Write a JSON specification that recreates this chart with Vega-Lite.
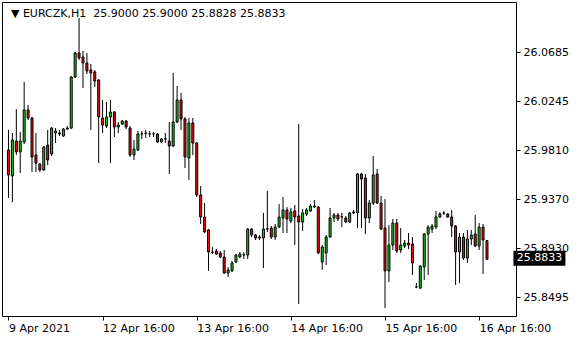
{
  "$schema": "https://vega.github.io/schema/vega-lite/v6.json",
  "width": 514,
  "height": 314,
  "autosize": {"type": "none"},
  "padding": {"left": 2, "top": 2, "right": 64, "bottom": 24},
  "background": "white",
  "config": {
    "view": {"stroke": "black", "strokeWidth": 1},
    "axis": {"labelFont": "DejaVu Sans", "labelFontSize": 11, "labelColor": "black", "tickColor": "black", "domain": false, "grid": false, "tickSize": 4}
  },
  "data": {"values": [
    {"i":0,"o":25.9811,"h":25.9990,"l":25.9381,"c":25.9587},
    {"i":1,"o":25.9578,"h":25.9963,"l":25.9345,"c":25.9900},
    {"i":2,"o":25.9891,"h":26.0177,"l":25.9766,"c":25.9793},
    {"i":3,"o":25.9793,"h":25.9972,"l":25.9605,"c":25.9891},
    {"i":4,"o":25.9882,"h":26.0419,"l":25.9864,"c":26.0169},
    {"i":5,"o":26.0169,"h":26.0213,"l":26.0079,"c":26.0097},
    {"i":6,"o":26.0097,"h":26.0106,"l":25.9614,"c":25.9748},
    {"i":7,"o":25.9766,"h":25.9963,"l":25.9614,"c":25.9694},
    {"i":8,"o":25.9685,"h":25.9694,"l":25.9614,"c":25.9632},
    {"i":9,"o":25.9632,"h":25.9846,"l":25.9623,"c":25.9837},
    {"i":10,"o":25.9855,"h":25.9990,"l":25.9676,"c":25.9721},
    {"i":11,"o":25.9775,"h":26.0016,"l":25.9757,"c":26.0007},
    {"i":12,"o":25.9963,"h":26.0007,"l":25.9873,"c":25.9981},
    {"i":13,"o":25.9954,"h":25.9990,"l":25.9936,"c":25.9963},
    {"i":14,"o":25.9936,"h":26.0007,"l":25.9927,"c":25.9998},
    {"i":15,"o":25.9998,"h":26.0025,"l":25.9990,"c":26.0007},
    {"i":16,"o":26.0007,"h":26.0473,"l":25.9998,"c":26.0464},
    {"i":17,"o":26.0464,"h":26.0688,"l":26.0455,"c":26.0679},
    {"i":18,"o":26.0679,"h":26.0992,"l":26.0616,"c":26.0634},
    {"i":19,"o":26.0643,"h":26.0697,"l":26.0365,"c":26.0589},
    {"i":20,"o":26.0589,"h":26.0679,"l":26.0491,"c":26.0518},
    {"i":21,"o":26.0527,"h":26.0580,"l":25.9990,"c":26.0500},
    {"i":22,"o":26.0509,"h":26.0527,"l":26.0374,"c":26.0428},
    {"i":23,"o":26.0437,"h":26.0446,"l":25.9694,"c":26.0106},
    {"i":24,"o":26.0097,"h":26.0258,"l":25.9963,"c":26.0034},
    {"i":25,"o":26.0025,"h":26.0240,"l":26.0007,"c":26.0106},
    {"i":26,"o":26.0106,"h":26.0258,"l":25.9694,"c":26.0151},
    {"i":27,"o":26.0151,"h":26.0160,"l":25.9927,"c":26.0016},
    {"i":28,"o":26.0016,"h":26.0061,"l":25.9963,"c":26.0034},
    {"i":29,"o":26.0043,"h":26.0079,"l":26.0034,"c":26.0070},
    {"i":30,"o":26.0070,"h":26.0079,"l":25.9998,"c":26.0016},
    {"i":31,"o":26.0007,"h":26.0025,"l":25.9748,"c":25.9766},
    {"i":32,"o":25.9766,"h":25.9900,"l":25.9721,"c":25.9819},
    {"i":33,"o":25.9811,"h":25.9981,"l":25.9802,"c":25.9954},
    {"i":34,"o":25.9954,"h":25.9981,"l":25.9909,"c":25.9956},
    {"i":35,"o":25.9959,"h":25.9990,"l":25.9918,"c":25.9963},
    {"i":36,"o":25.9954,"h":25.9981,"l":25.9927,"c":25.9955},
    {"i":37,"o":25.9955,"h":25.9972,"l":25.9927,"c":25.9954},
    {"i":38,"o":25.9954,"h":25.9963,"l":25.9873,"c":25.9882},
    {"i":39,"o":25.9882,"h":25.9918,"l":25.9873,"c":25.9909},
    {"i":40,"o":25.9909,"h":25.9963,"l":25.9873,"c":25.9910},
    {"i":41,"o":25.9891,"h":26.0061,"l":25.9596,"c":25.9846},
    {"i":42,"o":25.9846,"h":26.0500,"l":25.9837,"c":26.0061},
    {"i":43,"o":26.0061,"h":26.0383,"l":26.0052,"c":26.0258},
    {"i":44,"o":26.0258,"h":26.0321,"l":25.9990,"c":26.0088},
    {"i":45,"o":26.0088,"h":26.0106,"l":25.9649,"c":25.9748},
    {"i":46,"o":25.9739,"h":26.0097,"l":25.9542,"c":26.0052},
    {"i":47,"o":26.0052,"h":26.0097,"l":25.9766,"c":25.9873},
    {"i":48,"o":25.9873,"h":25.9882,"l":25.9390,"c":25.9408},
    {"i":49,"o":25.9408,"h":25.9488,"l":25.9148,"c":25.9211},
    {"i":50,"o":25.9211,"h":25.9336,"l":25.9068,"c":25.9077},
    {"i":51,"o":25.9095,"h":25.9103,"l":25.8728,"c":25.8898},
    {"i":52,"o":25.8896,"h":25.8942,"l":25.8880,"c":25.8894},
    {"i":53,"o":25.8907,"h":25.8924,"l":25.8871,"c":25.8880},
    {"i":54,"o":25.8889,"h":25.8907,"l":25.8844,"c":25.8853},
    {"i":55,"o":25.8853,"h":25.8916,"l":25.8701,"c":25.8710},
    {"i":56,"o":25.8710,"h":25.8763,"l":25.8674,"c":25.8737},
    {"i":57,"o":25.8728,"h":25.8817,"l":25.8719,"c":25.8799},
    {"i":58,"o":25.8808,"h":25.8880,"l":25.8799,"c":25.8871},
    {"i":59,"o":25.8853,"h":25.8898,"l":25.8844,"c":25.8880},
    {"i":60,"o":25.8871,"h":25.8898,"l":25.8835,"c":25.8873},
    {"i":61,"o":25.8871,"h":25.9112,"l":25.8835,"c":25.9103},
    {"i":62,"o":25.9103,"h":25.9112,"l":25.9032,"c":25.9050},
    {"i":63,"o":25.9050,"h":25.9059,"l":25.9005,"c":25.9023},
    {"i":64,"o":25.9023,"h":25.9050,"l":25.9005,"c":25.9032},
    {"i":65,"o":25.9023,"h":25.9247,"l":25.8754,"c":25.9103},
    {"i":66,"o":25.9103,"h":25.9444,"l":25.9077,"c":25.9105},
    {"i":67,"o":25.9112,"h":25.9130,"l":25.9014,"c":25.9032},
    {"i":68,"o":25.9032,"h":25.9148,"l":25.9005,"c":25.9121},
    {"i":69,"o":25.9121,"h":25.9327,"l":25.9112,"c":25.9211},
    {"i":70,"o":25.9202,"h":25.9390,"l":25.9068,"c":25.9274},
    {"i":71,"o":25.9274,"h":25.9300,"l":25.9068,"c":25.9193},
    {"i":72,"o":25.9175,"h":25.9291,"l":25.9157,"c":25.9256},
    {"i":73,"o":25.9265,"h":25.9318,"l":25.8960,"c":25.9211},
    {"i":74,"o":25.9220,"h":26.0043,"l":25.8432,"c":25.9166},
    {"i":75,"o":25.9166,"h":25.9282,"l":25.9086,"c":25.9247},
    {"i":76,"o":25.9238,"h":25.9291,"l":25.9220,"c":25.9274},
    {"i":77,"o":25.9265,"h":25.9327,"l":25.9256,"c":25.9309},
    {"i":78,"o":25.9300,"h":25.9363,"l":25.9291,"c":25.9309},
    {"i":79,"o":25.9300,"h":25.9309,"l":25.8880,"c":25.8889},
    {"i":80,"o":25.8808,"h":25.8960,"l":25.8737,"c":25.8942},
    {"i":81,"o":25.8889,"h":25.9050,"l":25.8781,"c":25.9032},
    {"i":82,"o":25.9032,"h":25.9291,"l":25.9023,"c":25.9202},
    {"i":83,"o":25.9202,"h":25.9247,"l":25.9166,"c":25.9229},
    {"i":84,"o":25.9229,"h":25.9247,"l":25.9175,"c":25.9193},
    {"i":85,"o":25.9211,"h":25.9247,"l":25.9121,"c":25.9213},
    {"i":86,"o":25.9202,"h":25.9220,"l":25.9157,"c":25.9166},
    {"i":87,"o":25.9166,"h":25.9256,"l":25.9157,"c":25.9247},
    {"i":88,"o":25.9247,"h":25.9274,"l":25.9238,"c":25.9256},
    {"i":89,"o":25.9247,"h":25.9605,"l":25.9112,"c":25.9596},
    {"i":90,"o":25.9596,"h":25.9605,"l":25.9112,"c":25.9551},
    {"i":91,"o":25.9560,"h":25.9596,"l":25.9059,"c":25.9202},
    {"i":92,"o":25.9202,"h":25.9363,"l":25.9157,"c":25.9336},
    {"i":93,"o":25.9336,"h":25.9757,"l":25.9318,"c":25.9587},
    {"i":94,"o":25.9596,"h":25.9640,"l":25.9327,"c":25.9336},
    {"i":95,"o":25.9336,"h":25.9399,"l":25.9095,"c":25.9103},
    {"i":96,"o":25.9112,"h":25.9372,"l":25.8396,"c":25.8728},
    {"i":97,"o":25.8728,"h":25.9139,"l":25.8629,"c":25.8960},
    {"i":98,"o":25.8960,"h":25.9193,"l":25.8916,"c":25.9157},
    {"i":99,"o":25.9157,"h":25.9193,"l":25.8889,"c":25.8907},
    {"i":100,"o":25.8916,"h":25.9112,"l":25.8889,"c":25.8960},
    {"i":101,"o":25.8951,"h":25.9005,"l":25.8933,"c":25.8978},
    {"i":102,"o":25.8978,"h":25.9068,"l":25.8924,"c":25.8960},
    {"i":103,"o":25.8969,"h":25.9032,"l":25.8692,"c":25.8799},
    {"i":104,"o":25.8584,"h":25.8620,"l":25.8575,"c":25.8586},
    {"i":105,"o":25.8575,"h":25.8781,"l":25.8566,"c":25.8772},
    {"i":106,"o":25.8763,"h":25.9068,"l":25.8647,"c":25.9059},
    {"i":107,"o":25.9059,"h":25.9139,"l":25.8692,"c":25.9121},
    {"i":108,"o":25.9103,"h":25.9148,"l":25.9068,"c":25.9130},
    {"i":109,"o":25.9121,"h":25.9265,"l":25.9103,"c":25.9211},
    {"i":110,"o":25.9211,"h":25.9256,"l":25.9202,"c":25.9238},
    {"i":111,"o":25.9245,"h":25.9265,"l":25.9229,"c":25.9247},
    {"i":112,"o":25.9238,"h":25.9247,"l":25.9202,"c":25.9211},
    {"i":113,"o":25.9211,"h":25.9274,"l":25.9032,"c":25.9130},
    {"i":114,"o":25.9130,"h":25.9139,"l":25.8602,"c":25.8898},
    {"i":115,"o":25.8898,"h":25.9068,"l":25.8620,"c":25.9032},
    {"i":116,"o":25.9032,"h":25.9068,"l":25.8826,"c":25.8844},
    {"i":117,"o":25.8844,"h":25.9095,"l":25.8799,"c":25.9014},
    {"i":118,"o":25.9014,"h":25.9095,"l":25.8960,"c":25.9050},
    {"i":119,"o":25.9059,"h":25.9229,"l":25.8942,"c":25.8951},
    {"i":120,"o":25.8951,"h":25.9157,"l":25.8916,"c":25.9121},
    {"i":121,"o":25.9121,"h":25.9148,"l":25.8701,"c":25.9005},
    {"i":122,"o":25.9000,"h":25.9000,"l":25.8828,"c":25.8833}
  ]},
  "layer": [
    {
      "mark": {"type": "rule", "color": "black", "strokeWidth": 1},
      "encoding": {
        "x": {"field": "i", "type": "quantitative", "scale": {"domain": [-0.375, 128.125], "nice": false, "zero": false},
          "axis": {"title": null, "orient": "bottom", "values": [0, 24, 48, 72, 96, 120], "labelAlign": "left", "labelBaseline": "top", "labelPadding": 2, "labelFlush": false, "labelOverlap": false,
            "labelExpr": "datum.value == 0 ? '9 Apr 2021' : datum.value == 24 ? '12 Apr 16:00' : datum.value == 48 ? '13 Apr 16:00' : datum.value == 72 ? '14 Apr 16:00' : datum.value == 96 ? '15 Apr 16:00' : '16 Apr 16:00'"}},
        "y": {"field": "l", "type": "quantitative", "scale": {"domain": [25.8325, 26.1135], "nice": false, "zero": false},
          "axis": {"title": null, "orient": "right", "values": [26.0685, 26.0245, 25.981, 25.937, 25.893, 25.8495], "format": ".4f", "labelPadding": 3, "labelBaseline": "middle", "labelFlush": false, "labelOverlap": false}},
        "y2": {"field": "h"}
      }
    },
    {
      "mark": {"type": "bar", "orient": "vertical", "width": 2, "stroke": "black", "strokeWidth": 1},
      "encoding": {
        "x": {"field": "i", "type": "quantitative"},
        "y": {"field": "o", "type": "quantitative"},
        "y2": {"field": "c"},
        "fill": {"condition": {"test": "datum.c >= datum.o", "value": "#1fcc1f"}, "value": "#f01010"}
      }
    },
    {
      "transform": [{"filter": "datum.i == 122"}],
      "mark": {"type": "rect", "color": "black", "clip": false},
      "encoding": {
        "x": {"datum": 128.75, "type": "quantitative"},
        "x2": {"datum": 142},
        "y": {"datum": 25.8909, "type": "quantitative"},
        "y2": {"datum": 25.8775}
      }
    },
    {
      "transform": [{"filter": "datum.i == 122"}],
      "mark": {"type": "text", "color": "white", "font": "DejaVu Sans", "fontSize": 11, "align": "center", "baseline": "middle", "dy": -1, "clip": false},
      "encoding": {
        "x": {"datum": 135.4, "type": "quantitative"},
        "y": {"field": "c", "type": "quantitative"},
        "text": {"field": "c", "type": "quantitative", "format": ".4f"}
      }
    },
    {
      "transform": [{"filter": "datum.i == 122"}],
      "mark": {"type": "text", "color": "black", "font": "DejaVu Sans", "fontSize": 11, "align": "left", "baseline": "alphabetic", "clip": false},
      "encoding": {
        "x": {"datum": 0.625, "type": "quantitative"},
        "y": {"datum": 26.1005, "type": "quantitative"},
        "text": {"value": "▼ EURCZK,H1\u00a0 25.9000 25.9000 25.8828 25.8833"}
      }
    }
  ]
}
